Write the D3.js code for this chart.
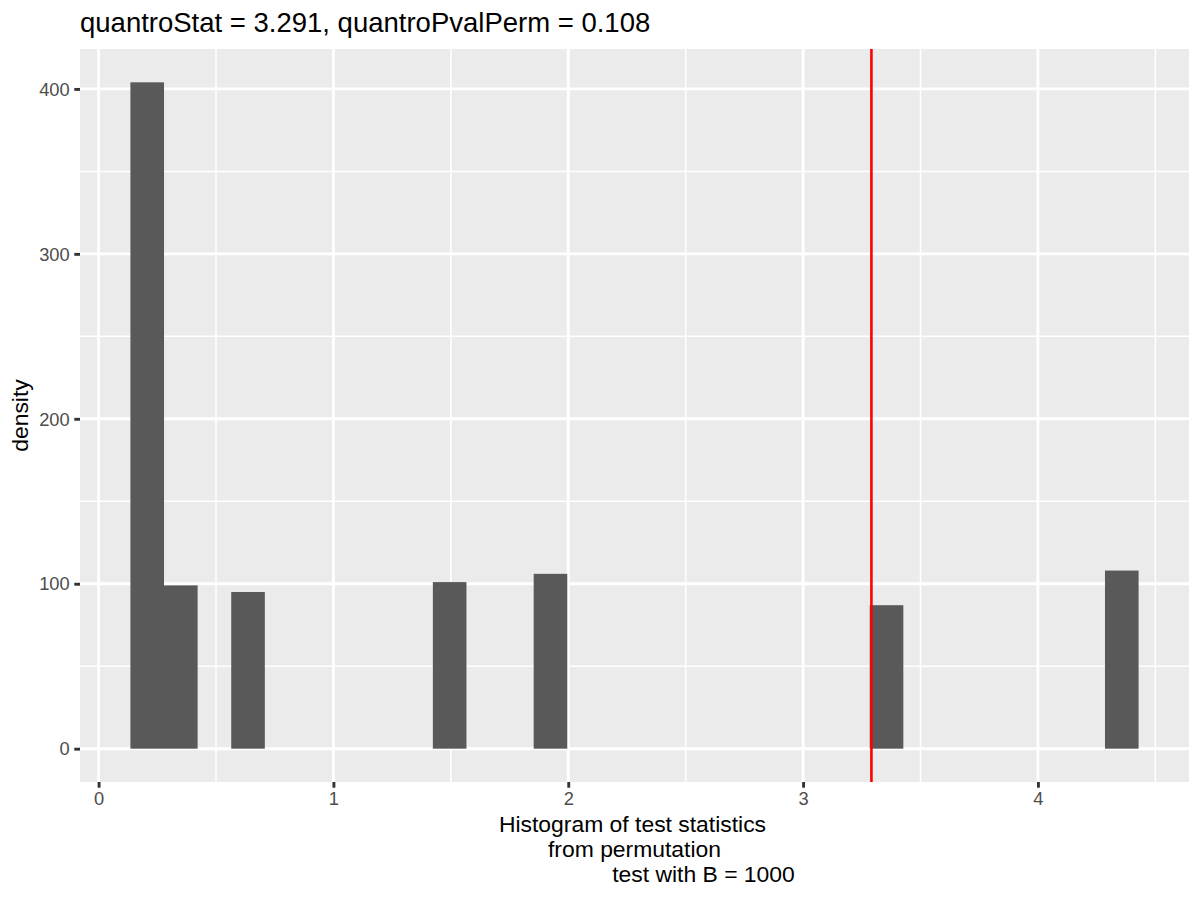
<!DOCTYPE html>
<html>
<head>
<meta charset="utf-8">
<script src="https://cdn.jsdelivr.net/npm/d3@7"></script>
<style>
  body { margin: 0; background: #fff; }
  text { font-family: "Liberation Sans", Arial, sans-serif; }
</style>
</head>
<body>
<svg id="chart"></svg>
<script>
// histogram bins (centres in data units) and their counts
const binCenters = [0.2071, 0.3502, 0.6364, 1.4950, 1.9243, 3.3553, 4.3571];
const binCounts = [404, 99, 95, 101, 106, 87, 108];
const binWidth = 0.1431;
const observedStat = 3.291;

const xTicks = [0, 1, 2, 3, 4];
const xMinor = [0.5, 1.5, 2.5, 3.5, 4.5];
const yTicks = [0, 100, 200, 300, 400];
const yMinor = [50, 150, 250, 350];

const titleText = "quantroStat = 3.291, quantroPvalPerm = 0.108";
const yTitle = "density";
const xTitleLines = ["Histogram of test statistics ", "from permutation", "test with B = 1000"];
const xTitleShift = [-2, 0, 69];

const margin = { top: 49, right: 11, bottom: 118, left: 80 };
const W = 1200, H = 900;
const width = W - margin.left - margin.right;
const height = H - margin.top - margin.bottom;

const svg = d3.select("#chart").attr("width", W).attr("height", H);
svg.append("rect").attr("width", W).attr("height", H).attr("fill", "#fff");

const g = svg.append("g").attr("transform", `translate(${margin.left},${margin.top})`);

// data range incl. bin edges, expanded 5% like ggplot
const xLo = d3.min(binCenters) - binWidth / 2;
const xHi = d3.max(binCenters) + binWidth / 2;
const xPad = (xHi - xLo) * 0.05;
const x = d3.scaleLinear().domain([xLo - xPad, xHi + xPad]).range([0, width]);

const yMax = d3.max(binCounts);
const y = d3.scaleLinear().domain([-yMax * 0.05, yMax * 1.05]).range([height, 0]);

g.append("rect").attr("width", width).attr("height", height).attr("fill", "#EBEBEB");

// grid
g.selectAll(".xminor").data(xMinor).join("line")
  .attr("x1", d => x(d)).attr("x2", d => x(d)).attr("y1", 0).attr("y2", height)
  .attr("stroke", "#fff").attr("stroke-width", 1.5);
g.selectAll(".yminor").data(yMinor).join("line")
  .attr("y1", d => y(d)).attr("y2", d => y(d)).attr("x1", 0).attr("x2", width)
  .attr("stroke", "#fff").attr("stroke-width", 1.5);
g.selectAll(".xmajor").data(xTicks).join("line")
  .attr("x1", d => x(d)).attr("x2", d => x(d)).attr("y1", 0).attr("y2", height)
  .attr("stroke", "#fff").attr("stroke-width", 2.9);
g.selectAll(".ymajor").data(yTicks).join("line")
  .attr("y1", d => y(d)).attr("y2", d => y(d)).attr("x1", 0).attr("x2", width)
  .attr("stroke", "#fff").attr("stroke-width", 2.9);

// bars
g.selectAll(".bar").data(binCenters).join("rect")
  .attr("x", d => x(d - binWidth / 2))
  .attr("width", d => x(d + binWidth / 2) - x(d - binWidth / 2))
  .attr("y", (d, i) => y(binCounts[i]))
  .attr("height", (d, i) => y(0) - y(binCounts[i]))
  .attr("fill", "#595959");

// observed statistic
g.append("line")
  .attr("x1", x(observedStat)).attr("x2", x(observedStat))
  .attr("y1", 0).attr("y2", height)
  .attr("stroke", "#FF0000").attr("stroke-width", 2.6);

// axes
const xAxis = g.append("g").attr("transform", `translate(0,${height})`)
  .call(d3.axisBottom(x).tickValues(xTicks).tickFormat(d3.format("d")).tickSize(5.7).tickPadding(4.6));
const yAxis = g.append("g")
  .call(d3.axisLeft(y).tickValues(yTicks).tickFormat(d3.format("d")).tickSize(5.7).tickPadding(4.6));
[xAxis, yAxis].forEach(a => {
  a.select(".domain").remove();
  a.selectAll(".tick line").attr("stroke", "#333333").attr("stroke-width", 2.9);
  a.selectAll(".tick text")
    .attr("fill", "#4D4D4D")
    .style("font-size", "18.3px")
    .style("font-family", '"Liberation Sans", Arial, sans-serif');
});
xAxis.selectAll(".tick text").attr("dy", "0.72em");
yAxis.selectAll(".tick text").attr("dy", "0.34em");

// titles
svg.append("text")
  .attr("x", margin.left).attr("y", 31.5)
  .style("font-size", "27.5px").attr("fill", "#000")
  .text(titleText);

svg.append("text")
  .attr("transform", `translate(28,${margin.top + height / 2}) rotate(-90)`)
  .attr("text-anchor", "middle")
  .style("font-size", "22.9px").attr("fill", "#000")
  .text(yTitle);

svg.selectAll(".xtitle").data(xTitleLines).join("text")
  .attr("x", (d, i) => margin.left + width / 2 + xTitleShift[i])
  .attr("y", (d, i) => 831.5 + i * 25)
  .attr("text-anchor", "middle")
  .style("font-size", "22.9px").attr("fill", "#000")
  .text(d => d);
</script>
</body>
</html>
